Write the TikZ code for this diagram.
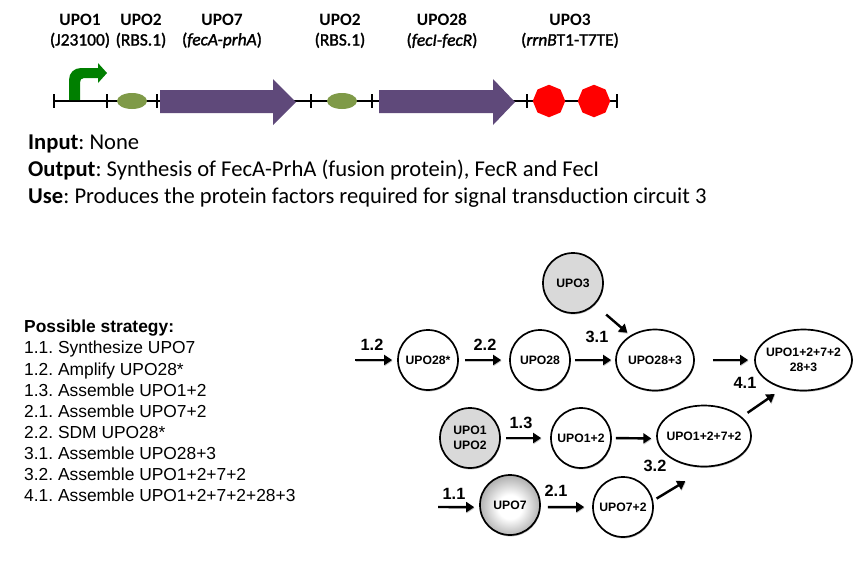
\documentclass[tikz,border=0pt]{standalone}
\usepackage{fontspec}
\setmainfont[Ligatures=NoCommon]{Carlito}
\newfontfamily\lblfont[Ligatures=NoCommon,FakeBold=1.5]{Carlito}
\newfontfamily\arialfont{Liberation Sans}
\usetikzlibrary{arrows.meta,shapes.geometric,shadows}
\definecolor{genepurple}{HTML}{5F497A}
\definecolor{rbsgreen}{HTML}{7F9A48}
\definecolor{promgreen}{HTML}{007F00}
\definecolor{partgray}{HTML}{D9D9D9}
\pgfdeclareradialshading{uposhade}{\pgfpoint{0bp}{-2bp}}{rgb(0bp)=(1,1,1);rgb(10bp)=(1,1,1);rgb(27bp)=(0.66,0.66,0.66);rgb(50bp)=(0.66,0.66,0.66)}
\newcommand{\partlbl}[2]{{\bfseries #1}\\{\lblfont #2}}
\tikzset{
  x=1pt, y=-1pt,
  lbl/.style={font=\fontsize{17.4}{20}\selectfont, align=center, anchor=center, inner sep=0pt},
  infotext/.style={font=\fontsize{22.6}{25}\selectfont, anchor=base west, inner sep=0pt},
  partshadow/.style={drop shadow={shadow xshift=0.6pt, shadow yshift=-1.4pt, opacity=0.45, fill=black!60}},
  upo/.style={draw=black, line width=1.7pt, inner sep=0pt, align=center,
    font=\arialfont\bfseries\fontsize{12.2}{15}\selectfont, partshadow},
  upocirc/.style={upo, circle, fill=white, minimum size=60pt},
  upoell/.style={upo, ellipse, fill=white, inner xsep=-5pt, minimum width=#1, minimum height=61pt},
  conn/.style={line width=2.4pt, -{Triangle[length=8pt,width=10pt]},
    preaction={draw=black!45, opacity=0.5, transform canvas={xshift=0.5pt,yshift=-1pt}}},
  steplbl/.style={font=\arialfont\bfseries\fontsize{16.3}{18}\selectfont, inner sep=0pt},
  track/.style={line width=2pt},
  gene/.style={fill=genepurple},
  rbs/.style={ellipse, fill=rbsgreen, minimum width=30pt, minimum height=16pt, inner sep=0pt},
  term/.style={regular polygon, regular polygon sides=8, shape border rotate=22.5, fill=red,
    minimum size=32.5pt, inner sep=0pt}
}
\begin{document}
\frenchspacing
\begin{tikzpicture}
  \useasboundingbox (0,0) rectangle (865,566);

  % labels above the track
  \node[lbl] (lblone) at (80,31) {\partlbl{UPO1}{(J23100)}};
  \node[lbl] (lbltwo) at (141,31) {\partlbl{UPO2}{(RBS.1)}};
  \node[lbl] (lblseven) at (222,31) {\partlbl{UPO7}{(\textit{fecA-prhA})}};
  \node[lbl] (lbltwob) at (340,31) {\partlbl{UPO2}{(RBS.1)}};
  \node[lbl] (lbleight) at (442,31) {\partlbl{UPO28}{(\textit{fecI-fecR})}};
  \node[lbl] (lblthree) at (570,31) {\partlbl{UPO3}{(\textit{rrnB}T1-T7TE)}};

  % track with ticks
  \draw[track] (53,101) -- (617,101);
  \foreach \x in {54,107,157,311,372,527,617}
    \draw[track] (\x,94) -- (\x,108);

  % promoter
  \fill[promgreen] (69,100) -- (69,80) .. controls (69,73) and (74,68) .. (81,68) -- (98,68)
    -- (98,63) -- (107,73) -- (98,83) -- (98,78) -- (84,78) .. controls (81,78) and (80,80) .. (80,83)
    -- (80,100) -- cycle;

  % parts
  \node[rbs] (rbsa) at (132,101) {};
  \fill[gene] (160,90) -- (273,90) -- (273,79) -- (296,102) -- (273,125) -- (273,113) -- (160,113) -- cycle;
  \node[rbs] (rbsb) at (342,101) {};
  \fill[gene] (379,90) -- (493,90) -- (493,79) -- (515,102) -- (493,125) -- (493,113) -- (379,113) -- cycle;
  \node[term] (terma) at (549,101) {};
  \node[term] (termb) at (594,101) {};

  % input, output, use
  \node[infotext] (input) at (28,149) {\textbf{Input}: None};
  \node[infotext] (output) at (28,176) {\textbf{Output}: Synthesis of FecA-PrhA (fusion protein), FecR and FecI};
  \node[infotext] (use) at (28,203) {\textbf{Use}: Produces the protein factors required for signal transduction circuit 3};

  % strategy list
  \node[anchor=north west, align=left, inner sep=0pt, font=\arialfont\fontsize{17.4}{21.1}\selectfont] (strategy) at (24,320)
    {\textbf{Possible strategy:}\\
     1.1. Synthesize UPO7\\
     1.2. Amplify UPO28*\\
     1.3. Assemble UPO1+2\\
     2.1. Assemble UPO7+2\\
     2.2. SDM UPO28*\\
     3.1. Assemble UPO28+3\\
     3.2. Assemble UPO1+2+7+2\\
     4.1. Assemble UPO1+2+7+2+28+3};

  % scheme nodes
  \node[upocirc, fill=partgray] (upothree) at (573,283) {UPO3};
  \node[upocirc] (upoeights) at (428,360) {UPO28*};
  \node[upocirc] (upoeight) at (540,360) {UPO28};
  \node[upoell=78pt] (upoeightthree) at (655,360) {UPO28+3};
  \node[upoell=97pt] (upoall) at (803.5,360) {UPO1+2+7+2\\28+3};
  \node[upocirc, fill=partgray] (upoonetwo) at (470,438) {UPO1\\UPO2};
  \node[upocirc] (upoplus) at (581,438) {UPO1+2};
  \node[upoell=94pt] (upolower) at (704,436) {UPO1+2+7+2};
  \node[upo, circle, minimum size=60pt, shading=uposhade] (uposeven) at (510,505) {UPO7};
  \node[upocirc] (uposeventwo) at (623,507) {UPO7+2};

  % free ends
  \coordinate (starteight) at (355,360);
  \coordinate (startseven) at (438,507);

  % arrows
  \draw[conn, shorten >=5pt] (starteight) -- (upoeights);
  \draw[conn, shorten <=6pt, shorten >=8pt] (upoeights) -- (upoeight);
  \draw[conn, shorten <=4pt, shorten >=4pt] (upoeight) -- (upoeightthree);
  \draw[conn, shorten <=18pt, shorten >=6pt] (upoeightthree) -- (upoall);
  \draw[conn, shorten <=15pt, shorten >=4pt] (upothree.-45) -- (upoeightthree.135);
  \draw[conn, shorten <=5pt, shorten >=9pt] (upoonetwo) -- (upoplus);
  \draw[conn, shorten <=4pt, shorten >=5pt] (upoplus.0) -- (upolower.-177.5);
  \draw[conn, shorten >=5pt] (startseven) -- (uposeven.-176);
  \draw[conn, shorten <=7pt, shorten >=8pt] (uposeven.-4) -- (uposeventwo.180);
  \draw[conn, shorten <=4pt, shorten >=27pt] (uposeventwo.12) -- (upolower.-82);
  \draw[conn, shorten <=7pt, shorten >=10pt] (upolower.27) -- (upoall.-126);

  % step labels
  \node[steplbl] (stepa) at (372,345) {1.2};
  \node[steplbl] (stepb) at (485,345) {2.2};
  \node[steplbl] (stepc) at (597,337) {3.1};
  \node[steplbl] (stepd) at (521,423) {1.3};
  \node[steplbl] (stepe) at (655,466) {3.2};
  \node[steplbl] (stepf) at (454,494) {1.1};
  \node[steplbl] (stepg) at (556,491) {2.1};
  \node[steplbl] (steph) at (745,383) {4.1};
\end{tikzpicture}
\end{document}
